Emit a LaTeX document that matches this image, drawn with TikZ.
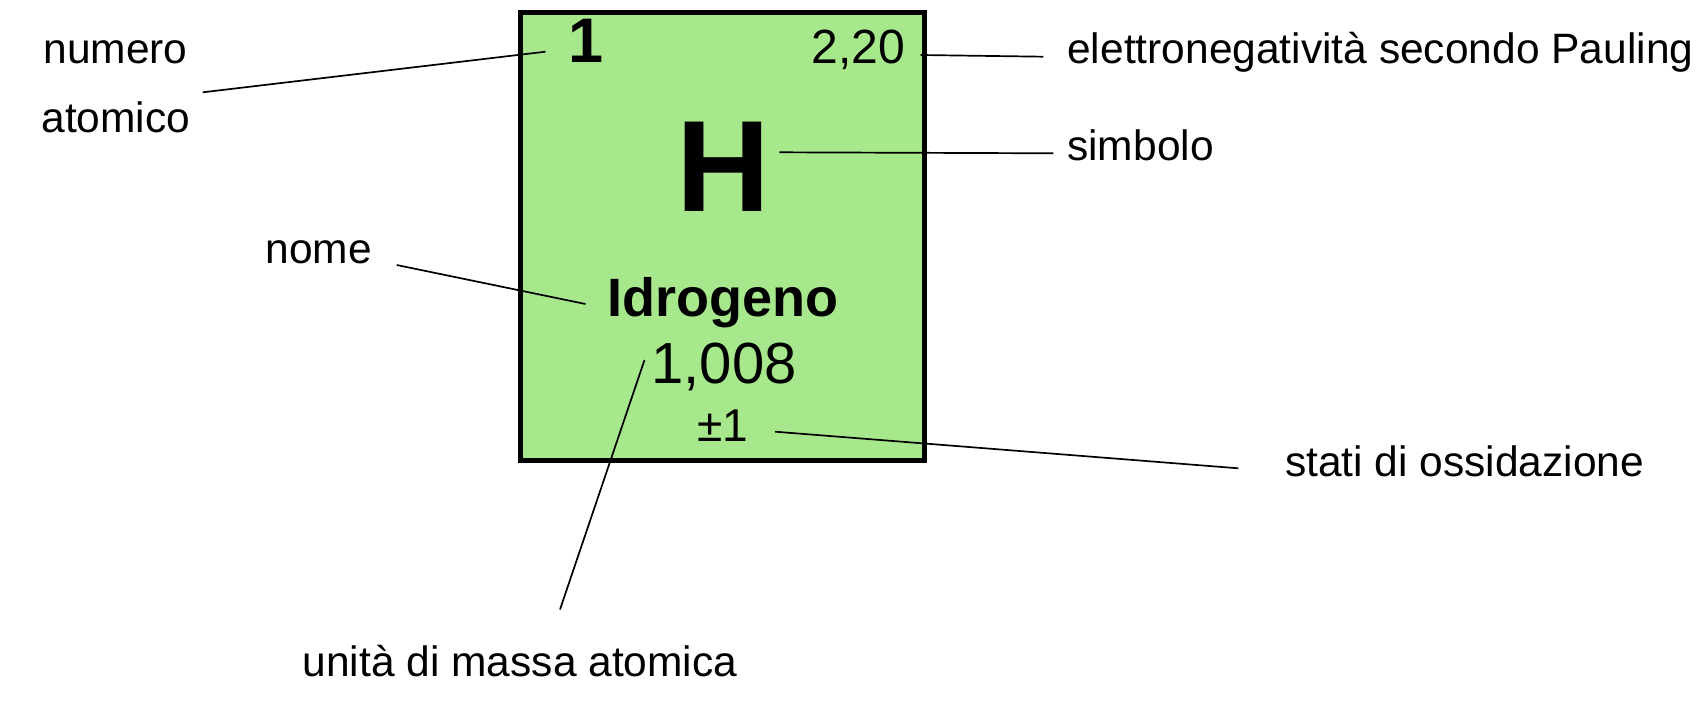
\documentclass[tikz,border=0pt]{standalone}
\usepackage{fontspec}
\setmainfont{Liberation Sans}
\definecolor{elemgreen}{HTML}{A6E88B}
\begin{document}
\begin{tikzpicture}[x=1pt,y=-1pt,
  lbl/.style={inner sep=0pt, outer sep=0pt, anchor=base west, font=\fontsize{42.5}{50}\selectfont},
  inbox/.style={inner sep=0pt, outer sep=0pt, anchor=base},
  conn/.style={line width=1.7pt, black}]
\useasboundingbox (0,0) rectangle (1701,701);
% element box
\node[draw=black, line width=5pt, fill=elemgreen, minimum width=404.5pt, minimum height=448pt,
      inner sep=0pt, outer sep=0pt, anchor=north west] (box) at (520,12.5) {};
% box contents
\node[inbox, font=\fontsize{63}{70}\bfseries] (znum) at (586,62.7) {1};
\node[inbox, anchor=base east, font=\fontsize{48}{54}\selectfont] (eneg) at (905,63.3) {2,20};
\node[inbox, font=\fontsize{130}{140}\bfseries] (sym) at (723.3,211.7) {H};
\node[inbox, font=\fontsize{54}{60}\bfseries] (name) at (722.5,316.7) {Idrogeno};
\node[inbox, font=\fontsize{58}{64}\selectfont] (mass) at (724,383) {1,008};
\node[inbox, font=\fontsize{46}{52}\selectfont] (ox) at (723,441.7) {±1};
% labels
\node[lbl, anchor=base] (lnum1) at (115.6,63.3) {numero};
\node[lbl, anchor=base] (lnum2) at (115.8,132.7) {atomico};
\node[lbl] (leneg) at (1067.3,63.3) {elettronegatività secondo Pauling};
\node[lbl] (lsym) at (1067.3,160) {simbolo};
\node[lbl, anchor=base] (lname) at (318.7,263.3) {nome};
\node[lbl, anchor=base] (lmass) at (520,676.7) {unità di massa atomica};
\node[lbl] (lox) at (1285,476.7) {stati di ossidazione};
% connector end points
\coordinate (c1a) at (202.8,92.3);  \coordinate (c1b) at (545.5,51.7);
\coordinate (c2a) at (920.7,55);    \coordinate (c2b) at (1043.3,56.7);
\coordinate (c3a) at (779.3,152.3); \coordinate (c3b) at (1053.3,153.3);
\coordinate (c4a) at (396.7,265);   \coordinate (c4b) at (585.5,304);
\coordinate (c5a) at (644.5,360);   \coordinate (c5b) at (560,609.5);
\coordinate (c6a) at (775.2,431.7); \coordinate (c6b) at (1238.3,468.3);
% connectors
\draw[conn] (c1a) -- (c1b);
\draw[conn] (c2a) -- (c2b);
\draw[conn] (c3a) -- (c3b);
\draw[conn] (c4a) -- (c4b);
\draw[conn] (c5a) -- (c5b);
\draw[conn] (c6a) -- (c6b);
\end{tikzpicture}
\end{document}
